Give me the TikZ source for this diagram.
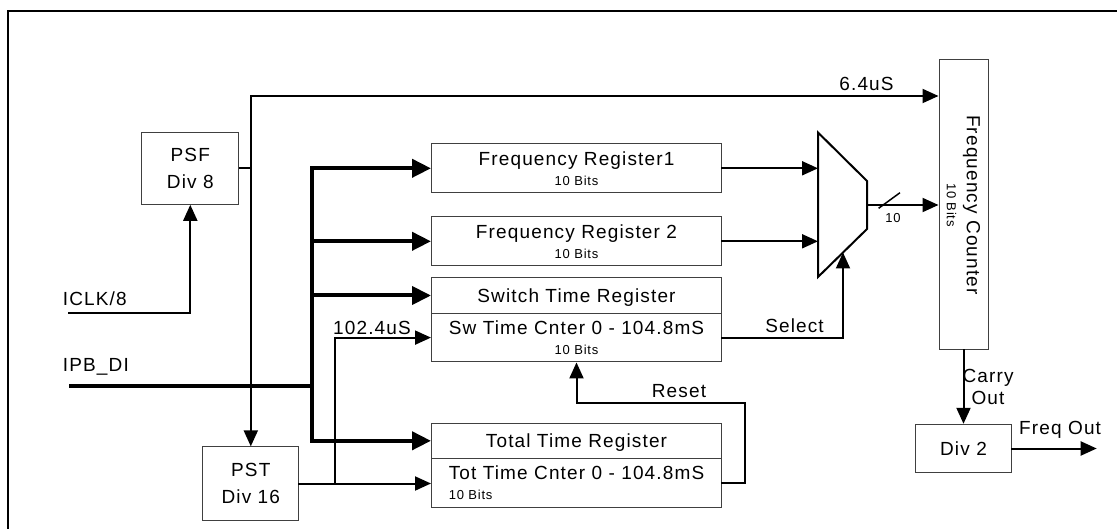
\documentclass[tikz,border=0pt]{standalone}
\usepackage{fontspec}
\setmainfont{Liberation Sans}[LetterSpace=6]
\usetikzlibrary{arrows.meta, positioning}
\newcommand{\regfont}{\fontsize{19}{21}\selectfont}
\newcommand{\bitsfont}{\fontsize{13}{14}\selectfont}

\begin{document}
\begin{tikzpicture}[
    x=1pt, y=-1pt,
    block/.style={rectangle, draw=black!75, line width=1pt, inner sep=0pt, align=center, text depth=0pt, font=\regfont},
    reg/.style={block, minimum width=290pt, minimum height=48.7pt},
    regtop/.style={block, minimum width=290pt, minimum height=35.5pt},
    wire/.style={line width=2pt, line cap=rect, -{Triangle[length=16pt, width=14pt]}},
    bus/.style={line width=4pt, -{Triangle[length=19pt, width=18pt]}},
    lbl/.style={inner sep=0pt, font=\regfont}
]
    \useasboundingbox (0,0) rectangle (1117,529);
    \draw[line width=2.5pt] (8,529) -- (8,11) -- (1117,11);

    \node[block, minimum width=96.8pt, minimum height=72pt] (psf) at (190.3,168.3) {PSF\\[6pt]Div 8};
    \node[block, minimum width=96.3pt, minimum height=73.3pt] (pst) at (250.8,483.5) {PST\\[6pt]Div 16};

    \node[reg] (fr1) at (576.5,168.3) {Frequency Register1\\[-1pt]{\bitsfont 10 Bits}};
    \node[reg] (fr2) at (576.5,241.3) {Frequency Register 2\\[-1pt]{\bitsfont 10 Bits}};
    \node[regtop] (swreg) at (576.5,295.5) {Switch Time Register};
    \node[reg, below=-1pt of swreg] (swcnt) {Sw Time Cnter 0 - 104.8mS\\[-1pt]{\bitsfont 10 Bits}};
    \node[regtop] (totreg) at (576.5,440.8) {Total Time Register};
    \node[reg, align=left, below=-1pt of totreg] (totcnt) {Tot Time Cnter 0 - 104.8mS\\[-1pt]{\bitsfont 10 Bits}};

    \node[block, rotate=-90, minimum width=290pt, minimum height=49pt] (fc) at (963.5,205) {Frequency Counter\\[-1pt]{\bitsfont 10 Bits}};
    \node[block, minimum width=96pt, minimum height=48.4pt] (div2) at (963.5,448.5) {Div 2};

    \coordinate (m1) at (818,132.5);
    \coordinate (m2) at (867,181);
    \coordinate (m3) at (867,229);
    \coordinate (m4) at (818,277);
    \coordinate (muxout) at (867,205);
    \coordinate (muxsel) at (843,252.5);
    \draw[line width=2pt] (m1) -- (m2) -- (m3) -- (m4) -- cycle;

    \coordinate (tap) at (250.8,96);
    \coordinate (iclk) at (69,313.3);
    \coordinate (ipb) at (69,386);
    \coordinate (bus) at (311.8,386);
    \coordinate (split) at (335,483.5);
    \coordinate (rst) at (745.4,402.7);
    \coordinate (fout) at (1096.7,448.5);

    \draw[line width=2pt] (psf.east) -- (psf.east -| tap);
    \draw[wire] (tap) -- (tap -| fc.south);
    \draw[wire] (tap) -- (pst.north);
    \draw[wire] (iclk) -| (psf.south);

    \draw[line width=4pt] (ipb) -- (bus);
    \draw[line width=4pt, line cap=rect] (bus |- fr1.west) -- (bus |- totreg.west);
    \foreach \reg in {fr1, fr2, swreg, totreg}
        \draw[bus] (bus |- \reg.west) -- (\reg.west);

    \draw[wire] (pst.east) -- (pst.east -| totcnt.west);
    \draw[wire] (split) |- (swcnt.west);
    \draw[wire] (fr1.east) -- (fr1.east -| m1);
    \draw[wire] (fr2.east) -- (fr2.east -| m1);
    \draw[wire] (muxout) -- (muxout -| fc.south);
    \draw[line width=1.5pt] (878.6,208.3) -- (900,192.7);
    \draw[wire] (swcnt.east) -| (muxsel);
    \draw[wire] (totcnt.east) -| (rst) -| (swcnt.south);
    \draw[wire] (fc.east) -- (div2.north);
    \draw[wire] (div2.east) -- (fout);

    \node[lbl, anchor=base] (l64) at (866.5,91) {6.4uS};
    \node[lbl, anchor=base west] (liclk) at (62.7,306) {ICLK/8};
    \node[lbl, anchor=base west] (lipb) at (62.7,371.7) {IPB\_DI};
    \node[lbl, anchor=base west] (l102) at (333,335) {102.4uS};
    \node[lbl, anchor=base] (lsel) at (794.5,333) {Select};
    \node[lbl, anchor=base] (lrst) at (679,397) {Reset};
    \node[lbl, align=center] (lcarry) at (988,387) {Carry\\[1.3pt]Out};
    \node[lbl, anchor=base west] (lfout) at (1019,434) {Freq Out};
    \node[lbl, font=\bitsfont] (lten) at (893,218) {10};
\end{tikzpicture}
\end{document}
